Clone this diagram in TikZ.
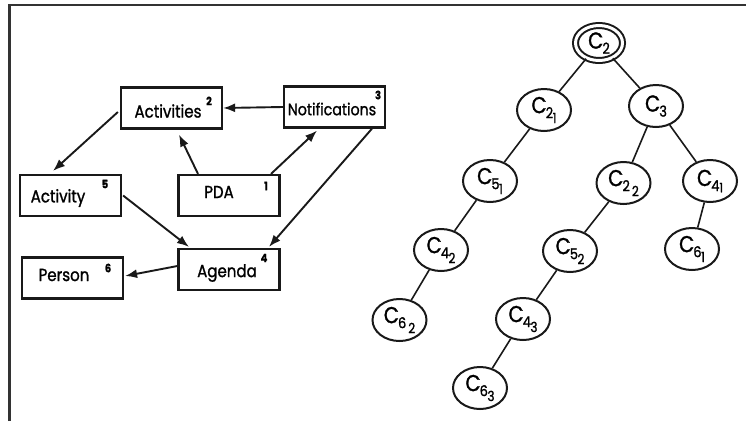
\documentclass[tikz,border=0pt]{standalone}
\usepackage{fontspec}
\setmainfont{Poppins}[FakeStretch=0.86,FakeBold=1.2]
\usetikzlibrary{arrows.meta,shapes.geometric,calc}
\newcommand\Csub[2]{C\kern-1pt\raisebox{-0.4ex}{\fontsize{15}{15}\selectfont #1\kern-0.5pt\raisebox{-0.6ex}{\fontsize{14}{14}\selectfont #2}}}
\newcommand\Cone[1]{C\kern-1pt\raisebox{-0.4ex}{\fontsize{15}{15}\selectfont #1}}
\begin{document}
\begin{tikzpicture}[x=1pt,y=-1pt,
  box/.style={draw=black!90,line width=2.2pt,minimum width=101pt,minimum height=41pt,inner sep=0pt},
  lbl/.style={inner sep=0pt,font=\fontsize{17.5}{17.5}\selectfont},
  num/.style={inner sep=0pt,font=\fontsize{11.5}{11.5}\selectfont\bfseries},
  arr/.style={draw=black!90,line width=1.9pt,-{Latex[length=12pt,width=9pt]}},
  cnode/.style={draw=black!90,ellipse,line width=2pt,minimum width=54pt,minimum height=42pt,inner sep=0pt,font=\fontsize{23}{23}\selectfont},
  tedge/.style={draw=black!90,line width=1.6pt}]
\useasboundingbox (0,0) rectangle (746,421);
\draw[line width=2.2pt,draw=black!80] (9.5,421) -- (9.5,5) -- (746,5);
% boxes
\node[box] (acts) at (171.5,108) {};
\node[box] (notif) at (334.5,107) {};
\node[box] (activity) at (70.5,195.5) {};
\node[box] (pda) at (229,195.5) {};
\node[box] (person) at (72.5,278) {};
\node[box] (agenda) at (229,269.5) {};
% labels
\node[lbl] (actsL) at (168,111) {Activities};
\node[num] (actsN) at (209,101) {2};
\node[lbl,font=\fontsize{16.5}{16.5}\selectfont] (notifL) at (332,109) {Notifications};
\node[num] (notifN) at (378,95) {3};
\node[lbl] (activityL) at (58,198) {Activity};
\node[num] (activityN) at (105,184) {5};
\node[lbl] (pdaL) at (219,192) {PDA};
\node[num] (pdaN) at (266,186) {1};
\node[lbl] (personL) at (64,275) {Person};
\node[num] (personN) at (108,268) {6};
\node[lbl] (agendaL) at (227,273) {Agenda};
\node[num] (agendaN) at (264,258) {4};
% arrows
\draw[arr] (notif.west) -- (acts.east);
\draw[arr] ($(acts.west)+(-2,4)$) -- ($(activity.north)+(-17.5,-3)$);
\draw[arr] ($(pda.north)+(-31,0)$) -- ($(acts.south)+(7.5,5)$);
\draw[arr] ($(pda.north)+(42,0)$) -- ($(notif.south)+(-17.5,2)$);
\draw[arr] ($(notif.south)+(37.5,0)$) -- ($(agenda.north)+(40,-1)$);
\draw[arr] ($(activity.east)+(1,0)$) -- ($(agenda.north)+(-40,-1)$);
\draw[arr] ($(agenda.west)+(0,-3.5)$) -- ($(person.east)+(1,-2)$);
% tree
\node[cnode,double,double distance=3pt,minimum width=47pt,minimum height=35pt] (c2) at (599,43) {\Cone{2}};
\node[cnode] (c21) at (544,110) {\Csub{2}{1}};
\node[cnode] (c3) at (656,106) {\Cone{3}};
\node[cnode] (c51) at (490,181) {\Csub{5}{1}};
\node[cnode] (c22) at (623.5,183) {\Csub{2\,}{2}};
\node[cnode] (c41) at (710,181) {C\kern-1pt\raisebox{-0.4ex}{\fontsize{15}{15}\selectfont 4\raisebox{-0.15ex}{\fontsize{13}{13}\selectfont 1}}};
\node[cnode] (c42) at (441,250) {\Csub{4}{2}};
\node[cnode] (c52) at (570,251) {\Csub{5}{2}};
\node[cnode] (c61) at (692,249) {\Csub{6}{1}};
\node[cnode] (c62) at (399.5,320) {\Csub{6\,}{2}};
\node[cnode] (c43) at (523,319) {\Csub{4}{3}};
\node[cnode] (c63) at (480,388) {\Csub{6}{3}};
\draw[tedge] (c2) -- (c21);
\draw[tedge] (c2) -- (c3);
\draw[tedge] (c21) -- (c51);
\draw[tedge] (c51) -- (c42);
\draw[tedge] (c42) -- (c62);
\draw[tedge] (c3) -- (c22);
\draw[tedge] (c3) -- (c41);
\draw[tedge] (c22) -- (c52);
\draw[tedge] (c52) -- (c43);
\draw[tedge] (c43) -- (c63);
\draw[tedge] (c41) -- (c61);
\end{tikzpicture}
\end{document}
